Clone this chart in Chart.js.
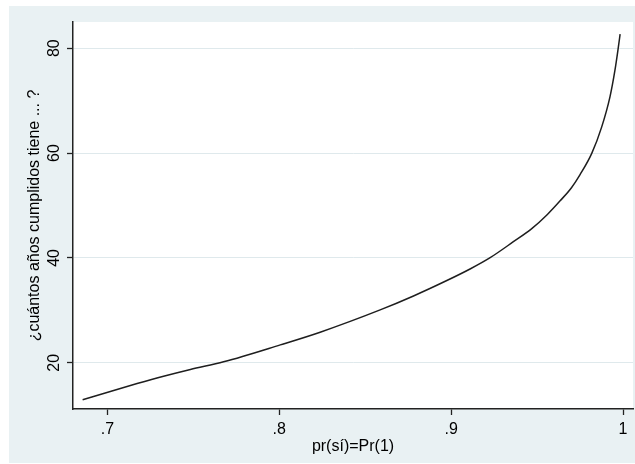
<!DOCTYPE html>
<html>
<head>
<meta charset="utf-8">
<script src="https://cdn.jsdelivr.net/npm/chart.js@4"></script>
<style>
html,body{margin:0;padding:0;background:#fff;}
canvas{display:block;}
</style>
</head>
<body>
<canvas id="c" width="635" height="464"></canvas>
<script>
const probValues = [0.6856,0.7017,0.7173,0.7327,0.7483,0.7676,0.8006,0.8238,0.8587,0.8781,0.8975,0.9110,0.9227,0.9362,0.9469,0.9560,0.9634,0.9700,0.9750,0.9818,0.9876,0.9924,0.9953,0.9973,0.9983];
const ageValues = [12.95,14.55,16.05,17.45,18.75,20.2,23.43,25.85,30.1,32.76,35.7,37.9,40.06,43.1,45.6,48.3,50.9,53.4,55.9,59.94,65.0,70.72,75.8,80.25,82.67];
const xTicks = [0.7, 0.8, 0.9, 1];
const xTickLabels = ['.7', '.8', '.9', '1'];
const yTicks = [20, 40, 60, 80];
const yTickLabels = ['20', '40', '60', '80'];
const xTitle = 'pr(sí)=Pr(1)';
const yTitle = '¿cuántos años cumplidos tiene ... ?';

const points = probValues.map((p, i) => ({x: p, y: ageValues[i]}));

const bgPlugin = {
  id: 'bg',
  beforeDraw(chart) {
    const ctx = chart.ctx, a = chart.chartArea;
    ctx.save();
    ctx.fillStyle = '#ffffff';
    ctx.fillRect(0, 0, chart.width, chart.height);
    ctx.fillStyle = '#e9f1f3';
    ctx.fillRect(9, 6, chart.width - 9, 457);
    ctx.fillStyle = '#ffffff';
    ctx.fillRect(a.left, a.top, a.right - a.left, a.bottom - a.top);
    ctx.restore();
  }
};

const font = {family: '"Liberation Sans", Arial, sans-serif', size: 16};

new Chart(document.getElementById('c'), {
  type: 'line',
  data: {
    datasets: [{
      data: points,
      borderColor: '#1e1e1e',
      borderWidth: 1.5,
      pointRadius: 0,
      fill: false,
      cubicInterpolationMode: 'monotone'
    }]
  },
  options: {
    responsive: false,
    animation: false,
    devicePixelRatio: 1,
    layout: {padding: {top: 22, right: 2, left: 0, bottom: 0}},
    plugins: {legend: {display: false}, tooltip: {enabled: false}},
    scales: {
      x: {
        type: 'linear',
        min: 0.680,
        max: 1.0058,
        afterBuildTicks(s) { s.ticks = xTicks.map(v => ({value: v})); },
        afterFit(s) { s.height = 55; },
        ticks: {
          font: font, color: '#000', padding: 5,
          maxRotation: 0, minRotation: 0, autoSkip: false,
          callback(v) { const i = xTicks.indexOf(v); return i >= 0 ? xTickLabels[i] : ''; }
        },
        grid: {drawOnChartArea: false, drawTicks: true, tickLength: 6, tickColor: '#222', tickWidth: 1.3},
        border: {display: true, color: '#222', width: 1.5},
        title: {display: true, text: xTitle, font: font, color: '#000', padding: {top: 0, bottom: 8}}
      },
      y: {
        type: 'linear',
        min: 11.2,
        max: 85,
        afterBuildTicks(s) { s.ticks = yTicks.map(v => ({value: v})); },
        afterFit(s) { s.width = 73; },
        ticks: {
          font: font, color: '#000', padding: 4,
          minRotation: 90, maxRotation: 90, crossAlign: 'center', autoSkip: false,
          callback(v) { const i = yTicks.indexOf(v); return i >= 0 ? yTickLabels[i] : ''; }
        },
        grid: {color: '#dfe9ec', lineWidth: 1, drawTicks: true, tickLength: 6, tickColor: '#222', tickWidth: 1.3},
        border: {display: true, color: '#222', width: 1.5},
        title: {display: true, text: yTitle, font: font, color: '#000', padding: {top: 25, bottom: 0}}
      }
    }
  },
  plugins: [bgPlugin]
});
</script>
</body>
</html>
